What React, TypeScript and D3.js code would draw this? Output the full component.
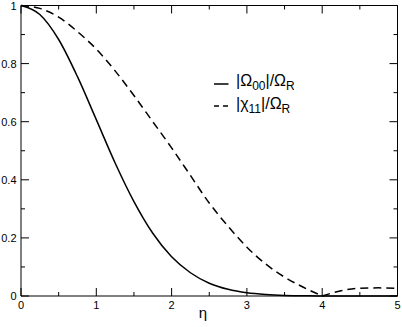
import React from 'react';
import * as d3 from 'd3';

// η sample positions
const eta = [0, 0.25, 0.5, 0.75, 1, 1.25, 1.5, 1.75, 2, 2.25, 2.5, 2.75, 3, 3.25, 3.5, 3.75, 4, 4.25, 4.5, 4.75, 5];
// |Ω00|/ΩR (solid)
const omega00 = [1, 0.969, 0.883, 0.755, 0.607, 0.458, 0.325, 0.216, 0.135, 0.08, 0.044, 0.023, 0.011, 0.005, 0.002, 0.001, 0, 0, 0, 0, 0];
// |χ11|/ΩR (dashed)
const chi11 = [1, 0.99, 0.96, 0.91, 0.85, 0.775, 0.69, 0.6, 0.51, 0.415, 0.32, 0.24, 0.168, 0.11, 0.065, 0.03, 0, 0.018, 0.027, 0.028, 0.026];

const xMajor = [0, 1, 2, 3, 4, 5];
const xMinor = [0.5, 1.5, 2.5, 3.5, 4.5];
const yMajor = [0, 0.2, 0.4, 0.6, 0.8, 1];
const yMajorLabels = ['0', '0.2', '0.4', '0.6', '0.8', '1'];
const yMinor = [0.1, 0.3, 0.5, 0.7, 0.9];

const FONT = 'Liberation Sans, Arial, Helvetica, sans-serif';

export default function App() {
  const W = 402, H = 327;
  const x = d3.scaleLinear().domain([0, 5]).range([21, 397.5]);
  const y = d3.scaleLinear().domain([0, 1]).range([296, 5.5]);

  const solidPts: [number, number][] = eta.map((e, i) => [e, omega00[i]]);
  const dashPts: [number, number][] = eta.map((e, i) => [e, chi11[i]]);
  const seg1 = dashPts.filter(p => p[0] <= 4);
  const seg2 = dashPts.filter(p => p[0] >= 4);

  const line = d3.line<[number, number]>()
    .x(d => x(d[0]))
    .y(d => y(d[1]))
    .curve(d3.curveMonotoneX);

  const solidD = line(solidPts) || '';
  const dashD = (line(seg1) || '') + (line(seg2) || '');

  const left = x(0), right = x(5), top = y(1), bottom = y(0);
  const MAJ = 8, MIN = 4;

  return (
    <svg width={W} height={H} style={{ position: 'absolute', left: 0, top: 0, background: '#fff' }}>
      <rect x={0} y={0} width={W} height={H} fill="#fff" />
      {/* curves */}
      <path d={solidD} fill="none" stroke="#000" strokeWidth={1.5} />
      <path d={dashD} fill="none" stroke="#000" strokeWidth={1.5} strokeDasharray="8,5" />
      {/* frame */}
      <g stroke="#000" strokeWidth={1} fill="none">
        <line x1={left} y1={top} x2={right} y2={top} />
        <line x1={right} y1={top} x2={right} y2={bottom} />
        <line x1={left} y1={top} x2={left} y2={bottom} />
        <line x1={left} y1={bottom} x2={right} y2={bottom} />
        {xMajor.map(v => (
          <g key={'xm' + v}>
            <line x1={x(v)} y1={bottom} x2={x(v)} y2={bottom - MAJ} />
            <line x1={x(v)} y1={top} x2={x(v)} y2={top + MAJ} />
          </g>
        ))}
        {xMinor.map(v => (
          <g key={'xn' + v}>
            <line x1={x(v)} y1={bottom} x2={x(v)} y2={bottom - MIN} />
            <line x1={x(v)} y1={top} x2={x(v)} y2={top + MIN} />
          </g>
        ))}
        {yMajor.map(v => (
          <g key={'ym' + v}>
            <line x1={left} y1={y(v)} x2={left + MAJ} y2={y(v)} />
            <line x1={right} y1={y(v)} x2={right - MAJ} y2={y(v)} />
          </g>
        ))}
        {yMinor.map(v => (
          <g key={'yn' + v}>
            <line x1={left} y1={y(v)} x2={left + MIN} y2={y(v)} />
            <line x1={right} y1={y(v)} x2={right - MIN} y2={y(v)} />
          </g>
        ))}
      </g>
      {/* tick labels */}
      <g fontFamily={FONT} fontSize={11} fill="#000">
        {xMajor.map(v => (
          <text key={'xl' + v} x={x(v)} y={308.5} textAnchor="middle">{String(v)}</text>
        ))}
        {yMajor.map((v, i) => (
          <text key={'yl' + v} x={16.5} y={y(v) + 4} textAnchor="end">{yMajorLabels[i]}</text>
        ))}
      </g>
      {/* axis title */}
      <text x={203} y={318} fontFamily={FONT} fontSize={15} textAnchor="middle">η</text>
      {/* legend */}
      <g fontFamily={FONT} fill="#000">
        <line x1={214} y1={84} x2={228.5} y2={84} stroke="#000" strokeWidth={1.5} />
        <text x={236} y={86} fontSize={16}>
          |Ω<tspan fontSize={12} dy={4}>00</tspan><tspan dy={-4}>|/Ω</tspan><tspan fontSize={12} dy={4}>R</tspan>
        </text>
        <line x1={214} y1={106} x2={228.5} y2={106} stroke="#000" strokeWidth={1.5} strokeDasharray="5,4" />
        <text x={236} y={109} fontSize={16}>
          |χ<tspan fontSize={12} dy={4}>11</tspan><tspan dy={-4}>|/Ω</tspan><tspan fontSize={12} dy={4}>R</tspan>
        </text>
      </g>
    </svg>
  );
}
